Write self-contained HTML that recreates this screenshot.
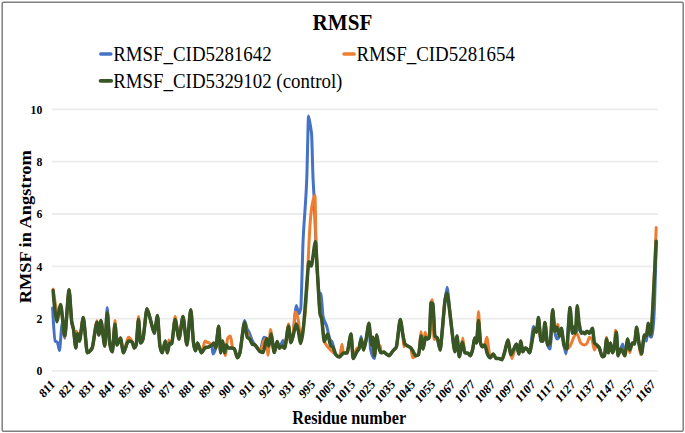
<!DOCTYPE html>
<html><head><meta charset="utf-8"><style>
html,body{margin:0;padding:0;background:#fff;}
body{width:685px;height:433px;overflow:hidden;}
svg{display:block;}
text{font-family:"Liberation Serif",serif;fill:#000;}
.b{font-weight:bold;}
</style></head><body>
<svg width="685" height="433" viewBox="0 0 685 433">
<rect x="0" y="0" width="685" height="433" fill="#fff"/>
<rect x="2.2" y="2.2" width="681" height="429" rx="1.2" fill="#fff" stroke="#7f7f7f" stroke-width="1.5"/>
<text transform="translate(342.4,29.9) scale(1,1.13)" text-anchor="middle" class="b" font-size="21.1">RMSF</text>
<line x1="100.8" y1="54" x2="110.9" y2="54" stroke="#4472C4" stroke-width="3.4" stroke-linecap="round"/>
<text transform="translate(113.2,60.8) scale(1,1.12)" font-size="18.9">RMSF_CID5281642</text>
<line x1="344" y1="54" x2="354.2" y2="54" stroke="#ED7D31" stroke-width="3.4" stroke-linecap="round"/>
<text transform="translate(356.4,60.8) scale(1,1.12)" font-size="18.9">RMSF_CID5281654</text>
<line x1="100.6" y1="80.8" x2="111.2" y2="80.8" stroke="#375623" stroke-width="3.8" stroke-linecap="round"/>
<text transform="translate(113.2,87.8) scale(1,1.12)" font-size="18.9">RMSF_CID5329102 (control)</text>
<line x1="52" y1="370.9" x2="658" y2="370.9" stroke="#ececec" stroke-width="1.8"/>
<line x1="52" y1="318.6" x2="658" y2="318.6" stroke="#ececec" stroke-width="1.8"/>
<line x1="52" y1="266.3" x2="658" y2="266.3" stroke="#ececec" stroke-width="1.8"/>
<line x1="52" y1="214.0" x2="658" y2="214.0" stroke="#ececec" stroke-width="1.8"/>
<line x1="52" y1="161.7" x2="658" y2="161.7" stroke="#ececec" stroke-width="1.8"/>
<line x1="52" y1="109.4" x2="658" y2="109.4" stroke="#ececec" stroke-width="1.8"/>

<text transform="translate(42.3,375.3) scale(1,1.12)" text-anchor="end" class="b" font-size="11.7">0</text>
<text transform="translate(42.3,323.0) scale(1,1.12)" text-anchor="end" class="b" font-size="11.7">2</text>
<text transform="translate(42.3,270.7) scale(1,1.12)" text-anchor="end" class="b" font-size="11.7">4</text>
<text transform="translate(42.3,218.4) scale(1,1.12)" text-anchor="end" class="b" font-size="11.7">6</text>
<text transform="translate(42.3,166.1) scale(1,1.12)" text-anchor="end" class="b" font-size="11.7">8</text>
<text transform="translate(42.3,113.8) scale(1,1.12)" text-anchor="end" class="b" font-size="11.7">10</text>

<text transform="translate(31.4,226.8) rotate(-90) scale(1.135,1)" text-anchor="middle" class="b" font-size="16.2">RMSF in Angstrom</text>
<text transform="translate(55.5,385.2) scale(1,1.13) rotate(-45)" text-anchor="end" class="b" font-size="11.6">811</text>
<text transform="translate(75.5,385.2) scale(1,1.13) rotate(-45)" text-anchor="end" class="b" font-size="11.6">821</text>
<text transform="translate(95.5,385.2) scale(1,1.13) rotate(-45)" text-anchor="end" class="b" font-size="11.6">831</text>
<text transform="translate(115.6,385.2) scale(1,1.13) rotate(-45)" text-anchor="end" class="b" font-size="11.6">841</text>
<text transform="translate(135.6,385.2) scale(1,1.13) rotate(-45)" text-anchor="end" class="b" font-size="11.6">851</text>
<text transform="translate(155.6,385.2) scale(1,1.13) rotate(-45)" text-anchor="end" class="b" font-size="11.6">861</text>
<text transform="translate(175.6,385.2) scale(1,1.13) rotate(-45)" text-anchor="end" class="b" font-size="11.6">871</text>
<text transform="translate(195.6,385.2) scale(1,1.13) rotate(-45)" text-anchor="end" class="b" font-size="11.6">881</text>
<text transform="translate(215.7,385.2) scale(1,1.13) rotate(-45)" text-anchor="end" class="b" font-size="11.6">891</text>
<text transform="translate(235.7,385.2) scale(1,1.13) rotate(-45)" text-anchor="end" class="b" font-size="11.6">901</text>
<text transform="translate(255.7,385.2) scale(1,1.13) rotate(-45)" text-anchor="end" class="b" font-size="11.6">911</text>
<text transform="translate(275.7,385.2) scale(1,1.13) rotate(-45)" text-anchor="end" class="b" font-size="11.6">921</text>
<text transform="translate(295.7,385.2) scale(1,1.13) rotate(-45)" text-anchor="end" class="b" font-size="11.6">931</text>
<text transform="translate(315.8,385.2) scale(1,1.13) rotate(-45)" text-anchor="end" class="b" font-size="11.6">995</text>
<text transform="translate(335.8,385.2) scale(1,1.13) rotate(-45)" text-anchor="end" class="b" font-size="11.6">1005</text>
<text transform="translate(355.8,385.2) scale(1,1.13) rotate(-45)" text-anchor="end" class="b" font-size="11.6">1015</text>
<text transform="translate(375.8,385.2) scale(1,1.13) rotate(-45)" text-anchor="end" class="b" font-size="11.6">1025</text>
<text transform="translate(395.8,385.2) scale(1,1.13) rotate(-45)" text-anchor="end" class="b" font-size="11.6">1035</text>
<text transform="translate(415.9,385.2) scale(1,1.13) rotate(-45)" text-anchor="end" class="b" font-size="11.6">1045</text>
<text transform="translate(435.9,385.2) scale(1,1.13) rotate(-45)" text-anchor="end" class="b" font-size="11.6">1055</text>
<text transform="translate(455.9,385.2) scale(1,1.13) rotate(-45)" text-anchor="end" class="b" font-size="11.6">1067</text>
<text transform="translate(475.9,385.2) scale(1,1.13) rotate(-45)" text-anchor="end" class="b" font-size="11.6">1077</text>
<text transform="translate(495.9,385.2) scale(1,1.13) rotate(-45)" text-anchor="end" class="b" font-size="11.6">1087</text>
<text transform="translate(516.0,385.2) scale(1,1.13) rotate(-45)" text-anchor="end" class="b" font-size="11.6">1097</text>
<text transform="translate(536.0,385.2) scale(1,1.13) rotate(-45)" text-anchor="end" class="b" font-size="11.6">1107</text>
<text transform="translate(556.0,385.2) scale(1,1.13) rotate(-45)" text-anchor="end" class="b" font-size="11.6">1117</text>
<text transform="translate(576.0,385.2) scale(1,1.13) rotate(-45)" text-anchor="end" class="b" font-size="11.6">1127</text>
<text transform="translate(596.0,385.2) scale(1,1.13) rotate(-45)" text-anchor="end" class="b" font-size="11.6">1137</text>
<text transform="translate(616.1,385.2) scale(1,1.13) rotate(-45)" text-anchor="end" class="b" font-size="11.6">1147</text>
<text transform="translate(636.1,385.2) scale(1,1.13) rotate(-45)" text-anchor="end" class="b" font-size="11.6">1157</text>
<text transform="translate(656.1,385.2) scale(1,1.13) rotate(-45)" text-anchor="end" class="b" font-size="11.6">1167</text>

<text transform="translate(349.2,424.0) scale(1,1.13)" text-anchor="middle" class="b" font-size="16.2">Residue number</text>
<g fill="none" stroke-linejoin="round" stroke-linecap="round">
<path d="M52.60,307.88C53.21,319.20 54.59,340.48 55.20,341.09C55.69,341.58 56.81,341.65 57.30,342.13C57.81,342.65 58.99,350.50 59.50,350.50C60.11,350.50 61.49,323.57 62.10,323.57C62.71,323.57 64.09,338.21 64.70,338.21C65.73,338.21 68.07,289.83 69.10,289.83C69.71,289.83 71.09,317.18 71.70,321.74C72.12,324.89 73.08,326.84 73.50,329.32C74.04,332.49 75.26,347.89 75.80,347.89C76.20,347.89 77.10,333.77 77.50,333.77C77.94,333.77 78.96,341.09 79.40,341.09C80.31,341.09 82.39,317.55 83.30,317.55C84.23,317.55 86.37,352.86 87.30,352.86C88.44,352.86 91.06,350.21 92.20,347.89C93.32,345.62 95.88,322.26 97.00,322.26C97.44,322.26 98.46,335.07 98.90,335.07C99.37,335.07 100.43,320.43 100.90,320.43C101.81,320.43 103.89,346.06 104.80,346.06C105.36,346.06 106.64,307.62 107.20,307.62C107.78,307.62 109.12,338.93 109.70,342.92C110.31,347.07 111.69,351.81 112.30,351.81C112.93,351.81 114.37,324.35 115.00,324.35C115.47,324.35 116.53,345.01 117.00,345.01C117.82,345.01 119.68,337.95 120.50,337.95C121.18,337.95 122.72,352.86 123.40,352.86C124.54,352.86 127.16,341.09 128.30,341.09C129.23,341.09 131.37,341.65 132.30,342.13C132.74,342.37 133.76,347.89 134.20,347.89C134.67,347.89 135.73,346.35 136.20,345.01C136.74,343.47 137.96,319.38 138.50,319.38C138.97,319.38 140.03,342.92 140.50,342.92C141.08,342.92 142.42,340.83 143.00,339.00C143.93,336.07 146.07,308.66 147.00,308.66C147.91,308.66 149.99,318.40 150.90,321.48C151.69,324.16 153.51,333.24 154.30,333.24C155.05,333.24 156.75,315.46 157.50,315.46C158.04,315.46 159.26,341.50 159.80,345.01C160.36,348.67 161.64,352.86 162.20,352.86C162.92,352.86 164.58,341.09 165.30,341.09C165.77,341.09 166.83,352.86 167.30,352.86C167.84,352.86 169.06,342.92 169.60,342.92C170.07,342.92 171.13,343.97 171.60,343.97C172.42,343.97 174.28,319.38 175.10,319.38C176.01,319.38 178.09,339.00 179.00,339.00C179.93,339.00 182.07,316.51 183.00,316.51C183.91,316.51 185.99,345.01 186.90,345.01C187.81,345.01 189.89,309.71 190.80,309.71C191.43,309.71 192.87,338.20 193.50,342.92C193.97,346.41 195.03,350.76 195.50,350.76C195.97,350.76 197.03,342.92 197.50,342.92C198.41,342.92 200.49,352.86 201.40,352.86C202.24,352.86 204.16,348.34 205.00,347.89C205.91,347.40 207.99,347.26 208.90,346.84C209.60,346.52 211.20,345.01 211.90,345.01C212.11,345.01 212.59,353.90 212.80,353.90C213.50,353.90 215.10,350.69 215.80,347.89C216.48,345.17 218.02,326.18 218.70,326.18C219.17,326.18 220.23,352.86 220.70,352.86C221.14,352.86 222.16,341.09 222.60,341.09C223.07,341.09 224.13,352.86 224.60,352.86C224.97,352.86 225.83,345.01 226.20,345.01C226.64,345.01 227.66,347.89 228.10,347.89C228.89,347.89 230.71,347.89 231.50,347.89C232.18,347.89 233.72,348.45 234.40,348.93C235.10,349.44 236.70,357.82 237.40,357.82C237.98,357.82 239.32,355.01 239.90,352.86C241.00,348.81 243.50,320.43 244.60,320.43C245.21,320.43 246.59,327.61 247.20,329.06C247.62,330.06 248.58,331.34 249.00,332.20C249.72,333.67 251.38,338.52 252.10,340.04C252.78,341.47 254.32,343.97 255.00,345.01C255.68,346.05 257.22,348.06 257.90,348.93C258.39,349.57 259.51,351.55 260.00,351.55C260.89,351.55 262.91,337.17 263.80,337.17C264.45,337.17 265.95,337.86 266.60,338.47C267.11,338.95 268.29,346.06 268.80,346.06C269.31,346.06 270.49,334.03 271.00,334.03C271.77,334.03 273.53,352.59 274.30,352.59C274.95,352.59 276.45,341.61 277.10,341.61C277.61,341.61 278.79,348.15 279.30,348.15C280.16,348.15 282.14,340.57 283.00,340.57C283.37,340.57 284.23,348.15 284.60,348.15C285.53,348.15 287.67,326.18 288.60,326.18C289.11,326.18 290.29,342.66 290.80,342.66C291.31,342.66 292.49,338.94 293.00,336.12C293.77,331.89 295.53,305.52 296.30,305.52C296.88,305.52 298.22,313.63 298.80,313.63C299.27,313.63 300.33,310.70 300.80,308.14C301.31,305.32 302.49,255.73 303.00,242.76C303.91,219.78 305.99,203.47 306.90,175.04C307.27,163.37 308.13,115.94 308.50,115.94C308.92,115.94 309.88,122.39 310.30,125.09C310.63,127.19 311.37,130.67 311.70,135.55C311.98,139.73 312.62,167.73 312.90,175.04C313.20,182.95 313.90,192.92 314.20,199.36C314.74,210.75 315.96,247.83 316.50,258.45C317.13,270.93 318.57,293.05 319.20,293.23C319.62,293.36 320.58,293.37 321.00,293.50C321.47,293.63 322.53,313.74 323.00,316.25C323.89,321.01 325.91,323.39 326.80,326.44C327.55,329.02 329.25,337.96 330.00,339.52C330.47,340.50 331.53,340.73 332.00,341.61C332.86,343.25 334.84,353.24 335.70,354.43C336.59,355.65 338.61,357.04 339.50,357.04C340.39,357.04 342.41,353.12 343.30,353.12C344.16,353.12 346.14,353.12 347.00,353.12C347.93,353.12 350.07,334.03 351.00,334.03C351.51,334.03 352.69,358.61 353.20,358.61C354.04,358.61 355.96,353.16 356.80,351.81C357.31,350.99 358.49,350.14 359.00,348.67C359.49,347.27 360.61,336.38 361.10,336.38C361.68,336.38 363.02,349.98 363.60,349.98C364.21,349.98 365.59,342.03 366.20,339.00C366.83,335.85 368.27,323.31 368.90,323.31C369.27,323.31 370.13,347.08 370.50,348.93C371.41,353.45 373.49,358.61 374.40,358.61C374.96,358.61 376.24,335.07 376.80,335.07C377.24,335.07 378.26,344.82 378.70,346.84C379.31,349.61 380.69,352.86 381.30,352.86C381.93,352.86 383.37,352.07 384.00,352.07C384.51,352.07 385.69,353.52 386.20,353.90C386.88,354.41 388.42,355.73 389.10,355.73C390.01,355.73 392.09,351.87 393.00,350.76C393.79,349.80 395.61,348.67 396.40,346.84C397.31,344.74 399.39,319.38 400.30,319.38C400.91,319.38 402.29,331.96 402.90,335.07C403.37,337.47 404.43,343.29 404.90,343.97C405.58,344.94 407.12,345.61 407.80,346.06C408.50,346.52 410.10,347.07 410.80,347.89C411.24,348.40 412.26,350.07 412.70,350.76C413.40,351.86 415.00,355.73 415.70,355.73C416.38,355.73 417.92,355.18 418.60,354.69C419.21,354.25 420.59,336.12 421.20,336.12C421.64,336.12 422.66,348.93 423.10,348.93C423.66,348.93 424.94,337.17 425.50,337.17C425.97,337.17 427.03,339.00 427.50,339.00C427.94,339.00 428.96,338.02 429.40,337.17C429.77,336.45 430.63,302.65 431.00,302.65C431.44,302.65 432.46,303.21 432.90,303.69C433.37,304.21 434.43,335.41 434.90,336.12C435.46,336.97 436.74,337.10 437.30,337.95C437.98,338.98 439.52,349.98 440.20,349.98C440.67,349.98 441.73,335.81 442.20,331.15C442.88,324.39 444.42,305.27 445.10,299.77C445.57,295.98 446.63,287.22 447.10,287.22C447.78,287.22 449.32,307.61 450.00,313.63C450.47,317.79 451.53,327.38 452.00,331.15C452.68,336.63 454.22,351.81 454.90,351.81C455.39,351.81 456.51,336.12 457.00,336.12C457.54,336.12 458.76,356.78 459.30,356.78C460.05,356.78 461.75,342.13 462.50,342.13C463.04,342.13 464.26,352.77 464.80,352.86C465.55,352.98 467.25,353.00 468.00,353.12C468.54,353.21 469.76,355.73 470.30,355.73C470.93,355.73 472.37,351.03 473.00,347.89C473.37,346.03 474.23,337.95 474.60,337.95C475.07,337.95 476.13,342.92 476.60,342.92C477.04,342.92 478.06,320.43 478.50,320.43C478.97,320.43 480.03,341.09 480.50,342.92C480.97,344.75 482.03,346.84 482.50,346.84C483.04,346.84 484.26,345.01 484.80,345.01C485.41,345.01 486.79,352.42 487.40,353.90C488.08,355.56 489.62,357.82 490.30,357.82C490.98,357.82 492.52,353.90 493.20,353.90C493.90,353.90 495.50,358.61 496.20,358.61C496.85,358.61 498.35,358.61 499.00,358.61C499.72,358.61 501.38,359.66 502.10,359.66C502.78,359.66 504.32,353.05 505.00,350.76C505.68,348.48 507.22,340.04 507.90,340.04C508.60,340.04 510.20,354.69 510.90,354.69C512.21,354.69 515.19,343.97 516.50,343.97C517.04,343.97 518.26,353.90 518.80,353.90C519.27,353.90 520.33,341.09 520.80,341.09C521.24,341.09 522.26,351.81 522.70,351.81C523.31,351.81 524.69,347.89 525.30,347.89C525.81,347.89 526.99,348.85 527.50,349.46C527.99,350.03 529.11,352.86 529.60,352.86C530.51,352.86 532.59,326.44 533.50,326.44C533.73,326.44 534.27,327.84 534.50,328.28C534.97,329.15 536.03,332.20 536.50,332.20C536.94,332.20 537.96,317.55 538.40,317.55C539.01,317.55 540.39,341.09 541.00,341.09C541.47,341.09 542.53,341.09 543.00,341.09C543.44,341.09 544.46,322.52 544.90,322.52C545.53,322.52 546.97,343.11 547.60,345.01C548.21,346.84 549.59,348.93 550.20,348.93C550.78,348.93 552.12,309.71 552.70,309.71C553.17,309.71 554.23,328.10 554.70,331.15C555.26,334.81 556.54,339.00 557.10,339.00C557.64,339.00 558.86,337.46 559.40,336.12C559.87,334.95 560.93,328.28 561.40,328.28C561.98,328.28 563.32,341.84 563.90,345.01C564.37,347.55 565.43,353.90 565.90,353.90C566.86,353.90 569.04,307.62 570.00,307.62C570.58,307.62 571.92,333.24 572.50,333.24C572.80,333.24 573.50,327.23 573.80,327.23C574.15,327.23 574.95,333.24 575.30,333.24C575.86,333.24 577.14,331.15 577.70,329.32C578.03,328.25 578.77,323.31 579.10,323.31C579.57,323.31 580.63,333.24 581.10,333.24C581.54,333.24 582.56,332.20 583.00,332.20C583.47,332.20 584.53,333.77 585.00,333.77C585.47,333.77 586.53,331.15 587.00,331.15C587.58,331.15 588.92,333.24 589.50,333.24C590.20,333.24 591.80,328.28 592.50,328.28C592.94,328.28 593.96,342.15 594.40,342.92C594.96,343.90 596.24,344.45 596.80,345.01C597.38,345.60 598.72,346.74 599.30,347.89C600.00,349.27 601.60,356.78 602.30,356.78C602.81,356.78 603.99,356.22 604.50,355.73C604.99,355.27 606.11,339.00 606.60,339.00C607.04,339.00 608.06,352.86 608.50,352.86C608.97,352.86 610.03,342.92 610.50,342.92C610.97,342.92 612.03,352.86 612.50,352.86C612.94,352.86 613.96,349.14 614.40,346.84C614.87,344.42 615.93,332.20 616.40,332.20C616.77,332.20 617.63,355.73 618.00,355.73C618.58,355.73 619.92,350.35 620.50,348.93C621.04,347.63 622.26,343.97 622.80,343.97C623.27,343.97 624.33,355.73 624.80,355.73C625.48,355.73 627.02,339.00 627.70,339.00C628.17,339.00 629.23,349.98 629.70,349.98C630.31,349.98 631.69,342.92 632.30,342.92C632.81,342.92 633.99,343.97 634.50,343.97C634.99,343.97 636.11,327.23 636.60,327.23C637.14,327.23 638.36,339.91 638.90,342.92C639.51,346.32 640.89,353.90 641.50,353.90C642.18,353.90 643.72,335.07 644.40,335.07C644.87,335.07 645.93,341.09 646.40,341.09C646.84,341.09 647.86,326.44 648.30,326.44C648.77,326.44 649.83,336.90 650.30,336.90C650.70,336.90 651.60,336.90 652.00,336.90C652.58,336.90 653.92,320.17 654.50,305.52C654.90,295.57 655.80,258.90 656.20,241.46" stroke="#4472C4" stroke-width="3"/>
<path d="M53.10,289.31C54.20,297.73 56.70,313.37 57.80,313.37C58.48,313.37 60.02,305.52 60.70,305.52C61.63,305.52 63.77,336.90 64.70,336.90C65.73,336.90 68.07,289.83 69.10,289.83C69.71,289.83 71.09,317.18 71.70,321.74C72.12,324.89 73.08,326.84 73.50,329.32C74.04,332.49 75.26,347.89 75.80,347.89C75.96,347.89 76.34,331.15 76.50,331.15C76.73,331.15 77.27,333.06 77.50,333.77C77.94,335.12 78.96,341.09 79.40,341.09C80.31,341.09 82.39,317.55 83.30,317.55C84.23,317.55 86.37,352.86 87.30,352.86C88.44,352.86 91.06,350.21 92.20,347.89C93.32,345.62 95.88,320.69 97.00,320.69C97.44,320.69 98.46,335.07 98.90,335.07C99.37,335.07 100.43,320.43 100.90,320.43C101.81,320.43 103.89,346.06 104.80,346.06C105.36,346.06 106.64,312.59 107.20,312.59C107.78,312.59 109.12,338.93 109.70,342.92C110.31,347.07 111.69,351.81 112.30,351.81C112.93,351.81 114.37,320.43 115.00,320.43C115.47,320.43 116.53,345.01 117.00,345.01C117.82,345.01 119.68,337.95 120.50,337.95C121.18,337.95 122.72,352.86 123.40,352.86C124.54,352.86 127.16,337.17 128.30,337.17C129.23,337.17 131.37,339.85 132.30,342.13C132.74,343.22 133.76,347.89 134.20,347.89C134.67,347.89 135.73,346.35 136.20,345.01C136.74,343.47 137.96,316.51 138.50,316.51C138.97,316.51 140.03,342.92 140.50,342.92C141.08,342.92 142.42,340.83 143.00,339.00C143.93,336.07 146.07,308.66 147.00,308.66C147.91,308.66 149.99,318.40 150.90,321.48C151.69,324.16 153.51,333.24 154.30,333.24C155.05,333.24 156.75,315.46 157.50,315.46C158.04,315.46 159.26,341.50 159.80,345.01C160.36,348.67 161.64,352.86 162.20,352.86C162.92,352.86 164.58,341.09 165.30,341.09C165.77,341.09 166.83,352.86 167.30,352.86C167.60,352.86 168.30,340.04 168.60,340.04C169.30,340.04 170.90,343.97 171.60,343.97C172.42,343.97 174.28,316.51 175.10,316.51C176.01,316.51 178.09,339.00 179.00,339.00C179.93,339.00 182.07,316.51 183.00,316.51C183.91,316.51 185.99,345.01 186.90,345.01C187.81,345.01 189.89,309.71 190.80,309.71C191.43,309.71 192.87,338.20 193.50,342.92C193.97,346.41 195.03,350.76 195.50,350.76C195.97,350.76 197.03,342.92 197.50,342.92C198.41,342.92 200.49,352.86 201.40,352.86C202.24,352.86 204.16,341.09 205.00,341.09C205.44,341.09 206.46,341.93 206.90,342.13C207.39,342.36 208.51,342.66 209.00,342.92C209.68,343.27 211.22,345.01 211.90,345.01C212.34,345.01 213.36,342.92 213.80,342.92C214.27,342.92 215.33,347.89 215.80,347.89C216.48,347.89 218.02,326.18 218.70,326.18C219.17,326.18 220.23,352.86 220.70,352.86C221.14,352.86 222.16,341.09 222.60,341.09C223.07,341.09 224.13,351.05 224.60,352.86C224.83,353.76 225.37,355.73 225.60,355.73C226.04,355.73 227.06,339.85 227.50,339.00C228.20,337.65 229.80,336.12 230.50,336.12C230.97,336.12 232.03,346.59 232.50,347.36C232.94,348.10 233.96,348.20 234.40,348.93C235.10,350.09 236.70,357.82 237.40,357.82C237.98,357.82 239.32,354.92 239.90,352.86C241.00,348.98 243.50,322.52 244.60,322.52C245.07,322.52 246.13,329.46 246.60,331.15C247.32,333.77 248.98,337.35 249.70,339.00C250.26,340.27 251.54,343.56 252.10,343.97C252.78,344.45 254.32,344.52 255.00,345.01C255.68,345.50 257.22,348.06 257.90,348.93C258.39,349.57 259.51,351.55 260.00,351.55C260.89,351.55 262.91,342.60 263.80,341.09C264.45,339.97 265.95,338.47 266.60,338.47C266.93,338.47 267.67,355.21 268.00,355.21C268.58,355.21 269.92,329.58 270.50,329.58C271.39,329.58 273.41,352.59 274.30,352.59C274.95,352.59 276.45,341.61 277.10,341.61C277.61,341.61 278.79,348.15 279.30,348.15C279.93,348.15 281.37,346.06 282.00,346.06C282.61,346.06 283.99,348.15 284.60,348.15C285.53,348.15 287.67,324.09 288.60,324.09C289.11,324.09 290.29,342.66 290.80,342.66C291.31,342.66 292.49,339.17 293.00,336.12C293.51,333.07 294.69,312.06 295.20,312.06C295.97,312.06 297.73,316.94 298.50,321.21C298.97,323.80 300.03,339.52 300.50,339.52C301.20,339.52 302.80,330.96 303.50,326.44C303.97,323.43 305.03,316.55 305.50,310.75C305.97,304.96 307.03,286.20 307.50,276.76C307.85,269.68 308.65,249.54 309.00,242.76C309.44,234.19 310.46,218.02 310.90,214.00C311.86,205.34 314.04,195.43 315.00,195.43C315.21,195.43 315.69,231.68 315.90,240.15C316.34,258.04 317.36,271.02 317.80,279.38C318.15,285.97 318.95,301.46 319.30,305.52C319.56,308.51 320.14,312.16 320.40,313.63C320.70,315.37 321.40,316.93 321.70,318.60C322.31,321.94 323.69,340.25 324.30,341.61C326.96,347.59 333.04,352.31 335.70,354.43C336.59,355.13 338.61,357.04 339.50,357.04C340.08,357.04 341.42,344.23 342.00,344.23C342.30,344.23 343.00,353.12 343.30,353.12C344.16,353.12 346.14,353.12 347.00,353.12C347.93,353.12 350.07,334.03 351.00,334.03C351.51,334.03 352.69,358.61 353.20,358.61C354.04,358.61 355.96,347.89 356.80,347.89C357.31,347.89 358.49,348.67 359.00,348.67C359.49,348.67 360.61,339.00 361.10,339.00C361.68,339.00 363.02,349.98 363.60,349.98C364.21,349.98 365.59,342.03 366.20,339.00C366.83,335.85 368.27,323.31 368.90,323.31C369.51,323.31 370.89,345.01 371.50,345.01C371.80,345.01 372.50,337.17 372.80,337.17C373.17,337.17 374.03,355.73 374.40,355.73C374.96,355.73 376.24,335.07 376.80,335.07C377.24,335.07 378.26,346.84 378.70,346.84C379.07,346.84 379.93,345.80 380.30,345.80C380.53,345.80 381.07,352.86 381.30,352.86C381.93,352.86 383.37,352.07 384.00,352.07C384.51,352.07 385.69,353.52 386.20,353.90C386.88,354.41 388.42,355.73 389.10,355.73C390.01,355.73 392.09,351.87 393.00,350.76C393.79,349.80 395.61,348.67 396.40,346.84C397.31,344.74 399.39,319.38 400.30,319.38C400.91,319.38 402.29,328.24 402.90,335.07C403.11,337.44 403.59,346.84 403.80,346.84C404.06,346.84 404.64,343.97 404.90,343.97C405.58,343.97 407.12,345.61 407.80,346.06C408.50,346.52 410.10,347.03 410.80,347.89C411.24,348.43 412.26,357.82 412.70,357.82C413.40,357.82 415.00,356.10 415.70,355.73C416.38,355.38 417.92,355.18 418.60,354.69C419.21,354.25 420.59,331.67 421.20,331.67C421.64,331.67 422.66,347.36 423.10,347.36C423.57,347.36 424.63,332.20 425.10,332.20C425.66,332.20 426.94,339.00 427.50,339.00C427.94,339.00 428.96,338.02 429.40,337.17C429.77,336.45 430.63,304.58 431.00,302.91C431.33,301.45 432.07,299.77 432.40,299.77C432.77,299.77 433.63,339.52 434.00,339.52C434.77,339.52 436.53,337.95 437.30,337.95C437.98,337.95 439.52,349.98 440.20,349.98C440.67,349.98 441.73,335.81 442.20,331.15C442.88,324.39 444.42,299.77 445.10,299.77C445.78,299.77 447.32,300.05 448.00,300.29C448.47,300.46 449.53,310.03 450.00,313.63C450.47,317.23 451.53,327.38 452.00,331.15C452.68,336.63 454.22,351.81 454.90,351.81C455.39,351.81 456.51,336.12 457.00,336.12C457.54,336.12 458.76,356.78 459.30,356.78C460.12,356.78 461.98,337.95 462.80,337.95C463.27,337.95 464.33,352.78 464.80,352.86C465.55,352.98 467.25,353.00 468.00,353.12C468.54,353.21 469.76,355.73 470.30,355.73C470.93,355.73 472.37,351.03 473.00,347.89C473.37,346.03 474.23,337.95 474.60,337.95C475.07,337.95 476.13,342.92 476.60,342.92C477.04,342.92 478.06,311.54 478.50,311.54C478.97,311.54 480.03,341.09 480.50,342.92C480.97,344.75 482.03,346.84 482.50,346.84C483.04,346.84 484.26,345.87 484.80,345.01C485.27,344.27 486.33,337.17 486.80,337.17C487.62,337.17 489.48,357.82 490.30,357.82C490.98,357.82 492.52,353.90 493.20,353.90C493.90,353.90 495.50,358.61 496.20,358.61C496.85,358.61 498.35,358.61 499.00,358.61C499.72,358.61 501.38,359.66 502.10,359.66C502.78,359.66 504.32,353.05 505.00,350.76C505.68,348.48 507.22,340.04 507.90,340.04C508.83,340.04 510.97,358.61 511.90,358.61C512.97,358.61 515.43,343.97 516.50,343.97C517.04,343.97 518.26,353.90 518.80,353.90C519.27,353.90 520.33,341.09 520.80,341.09C521.24,341.09 522.26,351.81 522.70,351.81C523.31,351.81 524.69,347.89 525.30,347.89C525.81,347.89 526.99,348.85 527.50,349.46C527.99,350.03 529.11,352.86 529.60,352.86C530.42,352.86 532.28,339.09 533.10,335.07C533.43,333.47 534.17,328.28 534.50,328.28C534.97,328.28 536.03,332.20 536.50,332.20C536.94,332.20 537.96,317.55 538.40,317.55C539.01,317.55 540.39,341.09 541.00,341.09C541.47,341.09 542.53,341.09 543.00,341.09C543.44,341.09 544.46,322.52 544.90,322.52C545.53,322.52 546.97,345.01 547.60,345.01C548.21,345.01 549.59,343.90 550.20,342.92C550.78,341.98 552.12,309.71 552.70,309.71C553.17,309.71 554.23,331.15 554.70,331.15C555.47,331.15 557.23,324.35 558.00,324.35C558.33,324.35 559.07,336.12 559.40,336.12C559.87,336.12 560.93,328.28 561.40,328.28C561.98,328.28 563.32,343.43 563.90,345.01C564.58,346.84 566.12,348.93 566.80,348.93C567.66,348.93 569.64,346.80 570.50,345.27C571.27,343.91 573.03,338.59 573.80,337.17C574.50,335.87 576.10,333.24 576.80,333.24C577.71,333.24 579.79,341.94 580.70,342.92C581.61,343.90 583.69,345.01 584.60,345.01C585.16,345.01 586.44,344.17 587.00,343.44C587.58,342.68 588.92,337.17 589.50,337.17C590.08,337.17 591.42,338.42 592.00,339.52C592.56,340.57 593.84,349.98 594.40,349.98C594.96,349.98 596.24,345.01 596.80,345.01C597.38,345.01 598.72,346.74 599.30,347.89C600.00,349.27 601.60,356.78 602.30,356.78C602.81,356.78 603.99,356.22 604.50,355.73C604.99,355.27 606.11,337.17 606.60,337.17C607.04,337.17 608.06,352.86 608.50,352.86C608.97,352.86 610.03,342.92 610.50,342.92C610.97,342.92 612.03,352.86 612.50,352.86C612.94,352.86 613.96,349.65 614.40,346.84C614.66,345.22 615.24,330.37 615.50,330.37C616.08,330.37 617.42,355.73 618.00,355.73C618.58,355.73 619.92,348.93 620.50,348.93C621.04,348.93 622.26,350.94 622.80,351.81C623.27,352.57 624.33,355.73 624.80,355.73C625.48,355.73 627.02,339.00 627.70,339.00C628.17,339.00 629.23,352.86 629.70,352.86C630.31,352.86 631.69,342.92 632.30,342.92C632.81,342.92 633.99,343.97 634.50,343.97C634.99,343.97 636.11,327.23 636.60,327.23C637.14,327.23 638.36,339.09 638.90,342.92C639.27,345.58 640.13,354.69 640.50,354.69C641.41,354.69 643.49,335.07 644.40,335.07C644.87,335.07 645.93,336.12 646.40,336.12C646.84,336.12 647.86,323.31 648.30,323.31C648.77,323.31 649.83,335.07 650.30,335.07C650.58,335.07 651.22,331.87 651.50,329.06C651.90,325.08 652.80,307.59 653.20,299.77C653.90,285.98 655.50,245.96 656.20,227.60" stroke="#ED7D31" stroke-width="3"/>
<path d="M53.10,290.62C53.92,301.51 55.78,321.74 56.60,321.74C57.56,321.74 59.74,304.48 60.70,304.48C61.63,304.48 63.77,335.86 64.70,335.86C65.73,335.86 68.07,289.83 69.10,289.83C69.71,289.83 71.09,317.18 71.70,321.74C72.12,324.89 73.08,326.84 73.50,329.32C74.04,332.49 75.26,347.89 75.80,347.89C76.20,347.89 77.10,333.77 77.50,333.77C77.94,333.77 78.96,341.09 79.40,341.09C80.31,341.09 82.39,317.55 83.30,317.55C84.23,317.55 86.37,352.86 87.30,352.86C88.44,352.86 91.06,350.21 92.20,347.89C93.32,345.62 95.88,322.26 97.00,322.26C97.44,322.26 98.46,335.07 98.90,335.07C99.37,335.07 100.43,320.43 100.90,320.43C101.81,320.43 103.89,346.06 104.80,346.06C105.36,346.06 106.64,312.59 107.20,312.59C107.78,312.59 109.12,338.93 109.70,342.92C110.31,347.07 111.69,351.81 112.30,351.81C112.93,351.81 114.37,324.35 115.00,324.35C115.47,324.35 116.53,345.01 117.00,345.01C117.82,345.01 119.68,337.95 120.50,337.95C121.18,337.95 122.72,352.86 123.40,352.86C124.54,352.86 127.16,341.09 128.30,341.09C129.23,341.09 131.37,341.65 132.30,342.13C132.74,342.37 133.76,347.89 134.20,347.89C134.67,347.89 135.73,346.35 136.20,345.01C136.74,343.47 137.96,319.38 138.50,319.38C138.97,319.38 140.03,342.92 140.50,342.92C141.08,342.92 142.42,340.83 143.00,339.00C143.93,336.07 146.07,308.66 147.00,308.66C147.91,308.66 149.99,318.40 150.90,321.48C151.69,324.16 153.51,333.24 154.30,333.24C155.05,333.24 156.75,315.46 157.50,315.46C158.04,315.46 159.26,341.50 159.80,345.01C160.36,348.67 161.64,352.86 162.20,352.86C162.92,352.86 164.58,341.09 165.30,341.09C165.77,341.09 166.83,352.86 167.30,352.86C167.84,352.86 169.06,342.92 169.60,342.92C170.07,342.92 171.13,343.97 171.60,343.97C172.42,343.97 174.28,319.38 175.10,319.38C176.01,319.38 178.09,339.00 179.00,339.00C179.93,339.00 182.07,316.51 183.00,316.51C183.91,316.51 185.99,345.01 186.90,345.01C187.81,345.01 189.89,309.71 190.80,309.71C191.43,309.71 192.87,338.20 193.50,342.92C193.97,346.41 195.03,350.76 195.50,350.76C195.97,350.76 197.03,342.92 197.50,342.92C198.41,342.92 200.49,352.86 201.40,352.86C202.24,352.86 204.16,348.34 205.00,347.89C205.91,347.40 207.99,347.26 208.90,346.84C209.60,346.52 211.20,345.65 211.90,345.01C212.34,344.61 213.36,342.92 213.80,342.92C214.27,342.92 215.33,347.89 215.80,347.89C216.48,347.89 218.02,326.18 218.70,326.18C219.17,326.18 220.23,352.86 220.70,352.86C221.14,352.86 222.16,341.09 222.60,341.09C223.07,341.09 224.13,352.86 224.60,352.86C224.97,352.86 225.83,345.01 226.20,345.01C226.64,345.01 227.66,347.89 228.10,347.89C228.89,347.89 230.71,347.89 231.50,347.89C232.18,347.89 233.72,348.45 234.40,348.93C235.10,349.44 236.70,357.82 237.40,357.82C237.98,357.82 239.32,354.92 239.90,352.86C241.00,348.98 243.50,322.52 244.60,322.52C245.21,322.52 246.59,336.28 247.20,337.17C247.78,338.02 249.12,338.17 249.70,339.00C250.26,339.79 251.54,343.56 252.10,343.97C252.78,344.45 254.32,344.52 255.00,345.01C255.68,345.50 257.22,348.06 257.90,348.93C258.39,349.57 259.51,351.24 260.00,351.55C260.77,352.04 262.53,352.59 263.30,352.59C264.07,352.59 265.83,338.47 266.60,338.47C267.11,338.47 268.29,346.06 268.80,346.06C269.31,346.06 270.49,334.03 271.00,334.03C271.77,334.03 273.53,352.59 274.30,352.59C274.95,352.59 276.45,341.61 277.10,341.61C277.61,341.61 278.79,348.15 279.30,348.15C279.93,348.15 281.37,346.06 282.00,346.06C282.61,346.06 283.99,348.15 284.60,348.15C285.53,348.15 287.67,326.18 288.60,326.18C289.11,326.18 290.29,342.66 290.80,342.66C291.31,342.66 292.49,337.78 293.00,336.12C293.77,333.62 295.53,324.09 296.30,324.09C296.81,324.09 297.99,329.15 298.50,331.67C298.94,333.86 299.96,343.44 300.40,343.44C301.12,343.44 302.78,334.12 303.50,326.97C303.83,323.74 304.57,314.38 304.90,310.23C305.27,305.49 306.13,293.23 306.50,288.53C307.06,281.48 308.34,261.85 308.90,261.85C309.46,261.85 310.74,266.04 311.30,266.04C312.26,266.04 314.44,241.72 315.40,241.72C315.96,241.72 317.24,270.62 317.80,279.38C318.31,287.40 319.49,310.47 320.00,313.63C320.40,316.07 321.30,316.75 321.70,318.86C322.31,322.09 323.69,341.61 324.30,341.61C325.07,341.61 326.83,334.03 327.60,334.03C328.30,334.03 329.90,344.47 330.60,345.53C331.16,346.39 332.44,346.51 333.00,347.36C333.63,348.33 335.07,353.56 335.70,354.43C336.59,355.65 338.61,357.04 339.50,357.04C340.39,357.04 342.41,353.12 343.30,353.12C344.16,353.12 346.14,353.12 347.00,353.12C347.93,353.12 350.07,334.03 351.00,334.03C351.51,334.03 352.69,358.61 353.20,358.61C354.04,358.61 355.96,353.16 356.80,351.81C357.31,350.99 358.49,350.14 359.00,348.67C359.49,347.27 360.61,339.00 361.10,339.00C361.68,339.00 363.02,349.98 363.60,349.98C364.21,349.98 365.59,342.03 366.20,339.00C366.83,335.85 368.27,323.31 368.90,323.31C369.51,323.31 370.89,345.01 371.50,345.01C371.80,345.01 372.50,337.17 372.80,337.17C373.17,337.17 374.03,355.73 374.40,355.73C374.96,355.73 376.24,335.07 376.80,335.07C377.24,335.07 378.26,344.82 378.70,346.84C379.31,349.61 380.69,352.86 381.30,352.86C381.93,352.86 383.37,352.07 384.00,352.07C384.51,352.07 385.69,353.52 386.20,353.90C386.88,354.41 388.42,355.73 389.10,355.73C390.01,355.73 392.09,351.87 393.00,350.76C393.79,349.80 395.61,348.67 396.40,346.84C397.31,344.74 399.39,319.38 400.30,319.38C400.91,319.38 402.29,331.96 402.90,335.07C403.37,337.47 404.43,343.29 404.90,343.97C405.58,344.94 407.12,345.61 407.80,346.06C408.50,346.52 410.10,347.07 410.80,347.89C411.24,348.40 412.26,350.07 412.70,350.76C413.40,351.86 415.00,355.73 415.70,355.73C416.38,355.73 417.92,355.18 418.60,354.69C419.21,354.25 420.59,336.12 421.20,336.12C421.64,336.12 422.66,348.93 423.10,348.93C423.66,348.93 424.94,337.17 425.50,337.17C425.97,337.17 427.03,339.00 427.50,339.00C427.94,339.00 428.96,338.02 429.40,337.17C429.77,336.45 430.63,302.65 431.00,302.65C431.44,302.65 432.46,303.21 432.90,303.69C433.37,304.21 434.43,335.41 434.90,336.12C435.46,336.97 436.74,337.10 437.30,337.95C437.98,338.98 439.52,349.98 440.20,349.98C440.67,349.98 441.73,335.81 442.20,331.15C442.88,324.39 444.42,304.12 445.10,299.77C445.57,296.77 446.63,292.97 447.10,292.97C447.78,292.97 449.32,308.16 450.00,313.63C450.47,317.41 451.53,327.38 452.00,331.15C452.68,336.63 454.22,351.81 454.90,351.81C455.39,351.81 456.51,336.12 457.00,336.12C457.54,336.12 458.76,356.78 459.30,356.78C460.05,356.78 461.75,342.13 462.50,342.13C463.04,342.13 464.26,352.77 464.80,352.86C465.55,352.98 467.25,353.00 468.00,353.12C468.54,353.21 469.76,355.73 470.30,355.73C470.93,355.73 472.37,351.03 473.00,347.89C473.37,346.03 474.23,337.95 474.60,337.95C475.07,337.95 476.13,342.92 476.60,342.92C477.04,342.92 478.06,320.43 478.50,320.43C478.97,320.43 480.03,341.09 480.50,342.92C480.97,344.75 482.03,346.84 482.50,346.84C483.04,346.84 484.26,345.01 484.80,345.01C485.41,345.01 486.79,352.42 487.40,353.90C488.08,355.56 489.62,357.82 490.30,357.82C490.98,357.82 492.52,353.90 493.20,353.90C493.90,353.90 495.50,358.61 496.20,358.61C496.85,358.61 498.35,358.61 499.00,358.61C499.72,358.61 501.38,359.66 502.10,359.66C502.78,359.66 504.32,353.05 505.00,350.76C505.68,348.48 507.22,340.04 507.90,340.04C508.60,340.04 510.20,354.69 510.90,354.69C512.21,354.69 515.19,343.97 516.50,343.97C517.04,343.97 518.26,353.90 518.80,353.90C519.27,353.90 520.33,341.09 520.80,341.09C521.24,341.09 522.26,351.81 522.70,351.81C523.31,351.81 524.69,347.89 525.30,347.89C525.81,347.89 526.99,348.85 527.50,349.46C527.99,350.03 529.11,352.86 529.60,352.86C530.42,352.86 532.28,339.09 533.10,335.07C533.43,333.47 534.17,328.28 534.50,328.28C534.97,328.28 536.03,332.20 536.50,332.20C536.94,332.20 537.96,317.55 538.40,317.55C539.01,317.55 540.39,341.09 541.00,341.09C541.47,341.09 542.53,341.09 543.00,341.09C543.44,341.09 544.46,322.52 544.90,322.52C545.53,322.52 546.97,345.01 547.60,345.01C548.21,345.01 549.59,343.90 550.20,342.92C550.78,341.98 552.12,309.71 552.70,309.71C553.17,309.71 554.23,331.15 554.70,331.15C555.26,331.15 556.54,327.23 557.10,327.23C557.64,327.23 558.86,336.12 559.40,336.12C559.87,336.12 560.93,328.28 561.40,328.28C561.98,328.28 563.32,343.43 563.90,345.01C564.58,346.84 566.12,348.93 566.80,348.93C567.55,348.93 569.25,307.62 570.00,307.62C570.58,307.62 571.92,333.24 572.50,333.24C572.80,333.24 573.50,327.23 573.80,327.23C574.15,327.23 574.95,333.24 575.30,333.24C575.74,333.24 576.76,305.79 577.20,305.79C577.64,305.79 578.66,320.14 579.10,323.31C579.57,326.64 580.63,333.24 581.10,333.24C581.54,333.24 582.56,332.20 583.00,332.20C583.47,332.20 584.53,333.77 585.00,333.77C585.47,333.77 586.53,331.15 587.00,331.15C587.58,331.15 588.92,333.24 589.50,333.24C590.20,333.24 591.80,328.28 592.50,328.28C592.94,328.28 593.96,342.15 594.40,342.92C594.96,343.90 596.24,344.45 596.80,345.01C597.38,345.60 598.72,346.74 599.30,347.89C600.00,349.27 601.60,356.78 602.30,356.78C602.81,356.78 603.99,356.22 604.50,355.73C604.99,355.27 606.11,339.00 606.60,339.00C607.04,339.00 608.06,352.86 608.50,352.86C608.97,352.86 610.03,342.92 610.50,342.92C610.97,342.92 612.03,352.86 612.50,352.86C612.94,352.86 613.96,349.14 614.40,346.84C614.87,344.42 615.93,332.20 616.40,332.20C616.77,332.20 617.63,355.73 618.00,355.73C618.58,355.73 619.92,348.93 620.50,348.93C621.04,348.93 622.26,350.94 622.80,351.81C623.27,352.57 624.33,355.73 624.80,355.73C625.48,355.73 627.02,339.00 627.70,339.00C628.17,339.00 629.23,349.98 629.70,349.98C630.31,349.98 631.69,342.92 632.30,342.92C632.81,342.92 633.99,343.97 634.50,343.97C634.99,343.97 636.11,327.23 636.60,327.23C637.14,327.23 638.36,339.91 638.90,342.92C639.51,346.32 640.89,353.90 641.50,353.90C642.18,353.90 643.72,335.07 644.40,335.07C644.87,335.07 645.93,336.12 646.40,336.12C646.84,336.12 647.86,323.31 648.30,323.31C648.77,323.31 649.83,335.07 650.30,335.07C650.58,335.07 651.22,331.87 651.50,329.06C651.90,325.08 652.80,306.94 653.20,299.77C653.90,287.13 655.50,255.38 656.20,241.20" stroke="#375623" stroke-width="3.5"/>
</g>
</svg>
</body></html>
